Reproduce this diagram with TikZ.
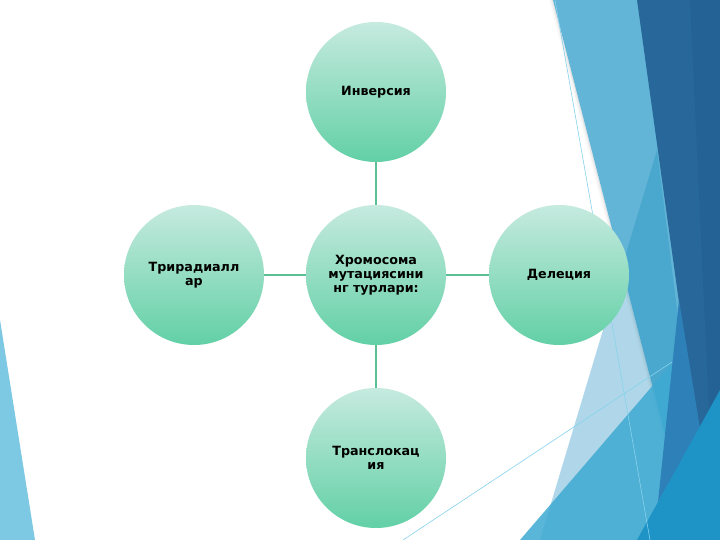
\documentclass[tikz,border=0pt]{standalone}
\usepackage{fontspec}
\newfontfamily\dvs{DejaVu Sans}
\definecolor{bandlight}{HTML}{62B5D6}
\definecolor{bandark}{HTML}{27679A}
\definecolor{darker}{HTML}{225E90}
\definecolor{tint}{HTML}{1E8FC0}
\definecolor{botblue}{HTML}{3EAAD2}
\definecolor{bright}{HTML}{1D93C6}
\definecolor{midstrip}{HTML}{2E80B8}
\definecolor{leftblue}{HTML}{7DC8E2}
\definecolor{thinline}{HTML}{86D2EC}
\definecolor{circtop}{HTML}{C6EADF}
\definecolor{circbot}{HTML}{62D0A6}
\definecolor{conn}{HTML}{5BBF96}
\tikzset{
  bubble/.style={circle, minimum size=140pt, inner sep=0pt, top color=circtop, bottom color=circbot, draw=none,
    font=\dvs\bfseries\fontsize{12.7}{14}\selectfont, align=center, text=black},
  link/.style={draw=conn, line width=1.4pt}
}
\begin{document}
\begin{tikzpicture}[x=1pt,y=-1pt]
\useasboundingbox (0,0) rectangle (720,540);
\fill[white] (0,0) rectangle (720,540);
% left decoration
\fill[leftblue] (0,320) -- (35,540) -- (0,540) -- cycle;
% right decoration
\foreach \o/\a in {4/0.02,2.5/0.03,1.2/0.05}{
  \draw[black, opacity=\a, line width=\o pt] (553-\o/2,0) -- (692-\o/2,540);
}
\fill[bandlight] (553,0) -- (720,0) -- (720,540) -- (692,540) -- cycle;
\fill[bandark] (637,0) -- (720,0) -- (720,540) -- (712,540) -- cycle;
\fill[darker, opacity=0.6] (690,0) -- (720,0) -- (720,540) -- (715,540) -- cycle;
\fill[tint, opacity=0.35] (657,150) -- (540,540) -- (706,540) -- cycle;
\fill[botblue, opacity=0.85] (520,540) -- (679,355) -- (662,540) -- cycle;
\fill[midstrip] (679,300) -- (700,428) -- (658,502) -- cycle;
\fill[bright] (720,390) -- (637,540) -- (720,540) -- cycle;
\draw[thinline, line width=0.6pt] (555,0) -- (650,540);
\draw[thinline, line width=0.6pt] (403,540) -- (672,362);
% diagram
\node[bubble] (c) at (376,275) {Хромосома\\мутациясини\\нг турлари:};
\node[bubble] (t) at (376,92) {Инверсия};
\node[bubble] (r) at (559,275) {Делеция};
\node[bubble] (b) at (376,458) {Транслокац\\ия};
\node[bubble] (l) at (194,275) {Трирадиалл\\ар};
\draw[link] (c) -- (t);
\draw[link] (c) -- (r);
\draw[link] (c) -- (b);
\draw[link] (c) -- (l);
\end{tikzpicture}
\end{document}
